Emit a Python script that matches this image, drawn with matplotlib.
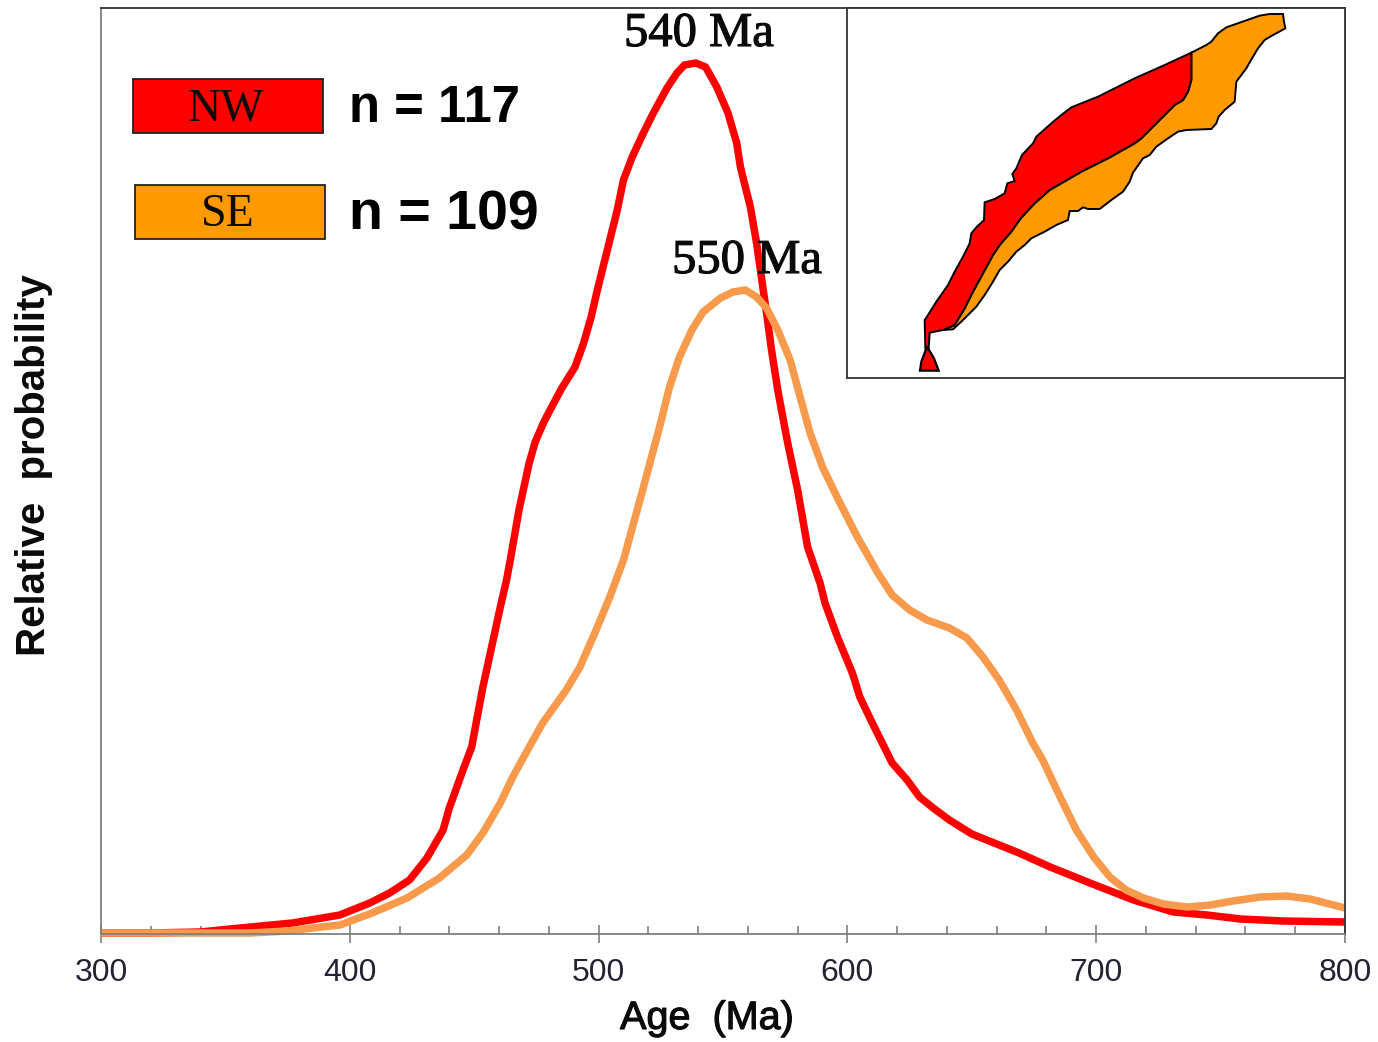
import matplotlib
matplotlib.use("Agg")
import matplotlib.pyplot as plt
import matplotlib.patheffects as pe
from matplotlib.patches import Polygon, Rectangle
from matplotlib.ticker import MultipleLocator

# Age spectra (age in Ma, relative probability in arbitrary units)
nw_age = [300,320,340,356,377,396,408,416,424,431,437.5,440,445.5,449,451,453.5,457,460.5,463,464.5,468,472,474.5,478,480.5,485,490.5,494,497,499.5,503.5,507.5,510,513.5,518,522,527.5,531.5,534.5,539,543,547.5,552,555.5,557,561,563.5,566,567.5,569.5,572,576,580,584,589,591,596,602,605,610,615,618,624,629,635,641,650,661,669,681.5,697.5,715,731,744.5,758,775,800]
nw_val = [1,1,2,6,11,19,31,41,54,76,104,126,164,187,214,247,287,327,354,374,424,470,492,512,524,545,567,591,617,644,684,724,754,777,801,821,846,861,869,871,867,847,821,791,767,727,691,647,621,584,544,491,444,387,351,331,297,261,237,211,186,171,154,137,125,114,100,89,81,67,51,34,22,19,15,13,12]
se_age = [300,340,360,375,385,396,409,423,436,447,453.5,460.5,465.5,471,477.5,487,492.5,499,504.5,510,517.5,524.5,528.5,532.5,537.5,542,549,554,559,563.5,567.5,572,577,581,585,590,596,604,612,618,625,632,641,648,654.5,661,668,674.5,678.5,685.5,692,699,705.5,712,719,727,736.5,746,755,766,776.5,786,800]
se_val = [1,1,1,3,6,9,21,36,56,79,101,131,157,182,211,244,267,304,337,374,442,507,547,577,604,622,636,642,644,637,626,604,574,537,501,467,436,397,362,339,324,314,306,296,277,254,224,191,174,137,104,77,57,44,36,30,27,29,33,37,38,35,26]

age_ticks = [300,400,500,600,700,800]

# Sketch map of the study area (map units)
nw_map_x = [232,230,240,265,300,320,345,365,370,385,408,410,440,470,478,500,493,505,522,555,565,610,640,670,750,860,950,1030,1030,1020,1005,980,930,880,860,780,700,605,560,518,490,455,435,405,375,350,320,285,245,242]
nw_map_y = [1045,960,945,905,855,815,770,730,700,682,660,607,597,580,550,543,522,505,465,430,410,370,345,322,290,235,195,158,240,275,300,315,365,415,430,475,515,570,610,655,695,735,765,820,875,925,975,990,998,1045]
se_map_x = [1030,1075,1090,1110,1135,1175,1235,1265,1305,1308,1312,1270,1250,1230,1215,1195,1165,1160,1130,1112,1105,1090,1015,990,960,925,905,885,855,845,825,790,755,720,705,690,665,660,625,590,550,530,505,480,455,435,410,385,360,340,315,285,320,350,375,405,435,455,490,518,560,605,700,780,860,880,930,980,1005,1020,1030]
se_map_y = [158,135,125,100,82,68,47,42,42,65,85,108,120,145,170,205,245,305,330,350,370,387,390,395,415,440,465,475,518,545,575,600,627,627,622,633,633,660,675,695,715,735,755,785,810,845,885,920,945,965,988,990,975,925,875,820,765,735,695,655,610,570,515,475,430,415,365,315,300,275,240]
tip_map_x = [237,258,272,216,220]
tip_map_y = [1040,1075,1112,1112,1085]

RED = "#FF0000"
ORANGE = "#F79A4B"
FILL_ORANGE = "#FF9900"
INK = "#0A0A0A"
W, H = 1378, 1042

fig = plt.figure(figsize=(W/100, H/100), dpi=100, facecolor="white")
ax = fig.add_axes([101/W, 1-934/H, 1244/W, 926/H])
ax.plot(nw_age, nw_val, color=RED, lw=5.4, solid_joinstyle="round", solid_capstyle="butt", clip_on=False)
ax.plot(se_age, se_val, color=ORANGE, lw=5.4, solid_joinstyle="round", solid_capstyle="butt", clip_on=False)
ax.set_xlim(300, 800)
ax.set_ylim(0, 926)
ax.set_yticks([])
ax.set_xticks(age_ticks)
ax.xaxis.set_minor_locator(MultipleLocator(20))
ax.tick_params(axis="x", which="major", direction="inout", length=13, width=1.2, color="#808080", pad=10.5)
ax.tick_params(axis="x", which="minor", direction="in", length=6, width=1.2, color="#808080")
for lab in ax.get_xticklabels():
    lab.set_fontfamily("Liberation Sans")
    lab.set_fontsize(23)
    lab.set_color("#222233")
ax.spines["left"].set_color("#808080")
ax.spines["bottom"].set_color("#808080")
ax.spines["top"].set_color("#333333")
ax.spines["right"].set_color("#333333")
for s in ax.spines.values():
    s.set_linewidth(1.3)

def fx(p): return p / W
def fy(p): return 1 - p / H

heavy = [pe.withStroke(linewidth=0.8, foreground=INK)]

fig.text(fx(707), fy(1018), "Age  (Ma)", family="Liberation Sans", fontsize=28.5, ha="center", va="center", color=INK, path_effects=heavy)
fig.text(fx(34), fy(465), "Relative  probability", family="Liberation Sans", weight="bold", fontsize=29, rotation=90, ha="center", va="center", color=INK)

fig.text(fx(699), fy(34), "540 Ma", family="Liberation Serif", fontsize=35, ha="center", va="center", color=INK, path_effects=heavy)
fig.text(fx(747), fy(261), "550 Ma", family="Liberation Serif", fontsize=35, ha="center", va="center", color=INK, path_effects=heavy)

for x0, x1, y0, y1, col, name, nval, ny, nsize in [
    (133, 323, 79, 133, RED, "NW", "n = 117", 109, 36.5),
    (135, 325, 185, 239, FILL_ORANGE, "SE", "n = 109", 215, 40),
]:
    fig.add_artist(Rectangle((fx(x0), fy(y1)), (x1-x0)/W, (y1-y0)/H, transform=fig.transFigure,
                             facecolor=col, edgecolor="#222222", lw=1.3))
    fig.text(fx((x0+x1)/2 - 2), fy((y0+y1)/2 + 3), name, family="Liberation Serif", fontsize=33, ha="center", va="center", color=INK)
    fig.text(fx(349), fy(ny), nval, family="Liberation Sans", weight="bold", fontsize=nsize, ha="left", va="center", color="black")

inset = fig.add_axes([847/W, 1-378/H, 498/W, 370/H])
inset.set_xlim(-3, 1491)
inset.set_ylim(1134, 24)
inset.set_xticks([])
inset.set_yticks([])
for s in inset.spines.values():
    s.set_color("#333333")
    s.set_linewidth(1.3)
inset.add_patch(Polygon(list(zip(se_map_x, se_map_y)), closed=True, facecolor=FILL_ORANGE, edgecolor="black", lw=1.4))
inset.add_patch(Polygon(list(zip(nw_map_x, nw_map_y)), closed=True, facecolor=RED, edgecolor="black", lw=1.4))
inset.add_patch(Polygon(list(zip(tip_map_x, tip_map_y)), closed=True, facecolor=RED, edgecolor="black", lw=1.6))

fig.savefig("out.png", dpi=100)
